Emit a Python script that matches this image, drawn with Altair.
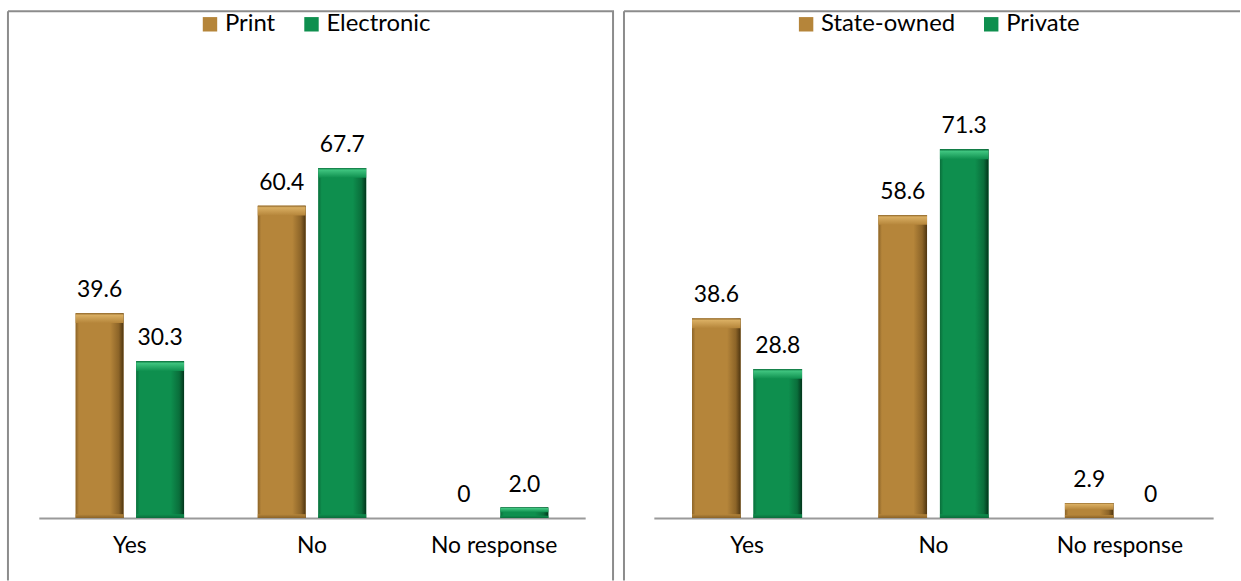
import altair as alt
import pandas as pd

# Categories and series values for the two panels
categories = ["Yes", "No", "No response"]

left_series = ["Print", "Electronic"]
print_values = [39.6, 60.4, 0]
electronic_values = [30.3, 67.7, 2.0]

right_series = ["State-owned", "Private"]
state_owned_values = [38.6, 58.6, 2.9]
private_values = [28.8, 71.3, 0]

BROWN = {"main": "#B5853A", "light": "#D9AE62", "dark": "#4E3510", "edge": "#8C6428"}
GREEN = {"main": "#0E8F4E", "light": "#3FC47F", "dark": "#02351B", "edge": "#0A6E3B"}

FONT = "Lato"
FONT_SIZE = 23
LEGEND_FONT_SIZE = 24
Y_MAX = 98.0
BASE = 509          # pixel row of the zero line inside each view
VIEW_H = 572
BORDER = "#8c8c8c"


def body_gradient(c):
    return alt.Gradient(
        gradient="linear", x1=0, y1=0, x2=1, y2=0,
        stops=[
            alt.GradientStop(offset=0.0, color=c["edge"]),
            alt.GradientStop(offset=0.07, color=c["main"]),
            alt.GradientStop(offset=0.72, color=c["main"]),
            alt.GradientStop(offset=0.9, color=c["edge"]),
            alt.GradientStop(offset=1.0, color=c["dark"]),
        ],
    )


def cap_gradient(c):
    return alt.Gradient(
        gradient="linear", x1=0, y1=0, x2=0, y2=1,
        stops=[
            alt.GradientStop(offset=0.0, color=c["edge"]),
            alt.GradientStop(offset=0.2, color=c["light"]),
            alt.GradientStop(offset=1.0, color=c["main"]),
        ],
    )


def foot_gradient(c):
    return alt.Gradient(
        gradient="linear", x1=0, y1=0, x2=0, y2=1,
        stops=[
            alt.GradientStop(offset=0.0, color=c["main"]),
            alt.GradientStop(offset=1.0, color=c["edge"]),
        ],
    )


def frame(width, right_edge):
    """Panel outline: left and top edges, plus the right edge when asked."""
    one = alt.Chart(pd.DataFrame({"k": [0]}))
    parts = [
        one.mark_rule(color=BORDER, strokeWidth=2).encode(
            x=alt.value(0), y=alt.value(0), y2=alt.value(VIEW_H)),
        one.mark_rule(color=BORDER, strokeWidth=2).encode(
            x=alt.value(0), x2=alt.value(width + 1), y=alt.value(0)),
    ]
    if right_edge:
        parts.append(one.mark_rule(color=BORDER, strokeWidth=2).encode(
            x=alt.value(width), y=alt.value(0), y2=alt.value(VIEW_H)))
    return parts


def panel(series, first_vals, second_vals, width, x_range, pad_inner, legend_x, right_edge):
    rows = []
    for cat, a, b in zip(categories, first_vals, second_vals):
        rows.append({"category": cat, "series": series[0], "value": a})
        rows.append({"category": cat, "series": series[1], "value": b})
    df = pd.DataFrame(rows)

    base = alt.Chart(df).transform_calculate(
        label="datum.value == 0 ? '0' : format(datum.value, '.1f')",
        cap="max(datum.value - min(1.9, datum.value * 0.45), 0)",
        foot="min(0.7, datum.value * 0.2)",
        zero="0",
    )

    x = alt.X(
        "category:N", sort=categories, title=None,
        scale=alt.Scale(range=x_range, paddingInner=pad_inner, paddingOuter=pad_inner / 2),
        axis=alt.Axis(
            orient="bottom", offset=BASE - VIEW_H, labelAngle=0, ticks=False,
            domainColor="#9a9a9a", domainWidth=2, labelPadding=17,
            labelFont=FONT, labelFontSize=FONT_SIZE, labelColor="#000000", grid=False,
        ),
    )
    xo = alt.XOffset("series:N", sort=series,
                     scale=alt.Scale(domain=series, paddingInner=0.21, paddingOuter=0))
    y_scale = alt.Scale(domain=[0, Y_MAX], range=[BASE, 0], nice=False, zero=True)
    y = alt.Y("value:Q", title=None, axis=None, scale=y_scale)

    solid = base.mark_bar().encode(
        x=x, xOffset=xo, y=y,
        color=alt.Color(
            "series:N", sort=series,
            scale=alt.Scale(domain=series, range=[BROWN["main"], GREEN["main"]]),
            legend=alt.Legend(
                title=None, orient="none", legendX=legend_x, legendY=1,
                direction="horizontal", symbolType="square", symbolSize=210,
                symbolStrokeWidth=0, labelFont=FONT, labelFontSize=LEGEND_FONT_SIZE,
                labelColor="#000000", columnPadding=24, labelOffset=3,
            ),
        ),
    )

    layers = frame(width, right_edge) + [solid]
    for name, pal in zip(series, [BROWN, GREEN]):
        part = base.transform_filter(alt.datum.series == name)
        layers.append(part.mark_bar(fill=body_gradient(pal)).encode(x=x, xOffset=xo, y=y))
        layers.append(
            part.mark_bar(fill=cap_gradient(pal)).encode(
                x=x, xOffset=xo, y=y, y2="cap:Q"
            )
        )
        layers.append(
            part.mark_bar(fill=foot_gradient(pal)).encode(
                x=x, xOffset=xo,
                y=alt.Y("foot:Q", title=None, axis=None, scale=y_scale),
                y2="zero:Q",
            )
        )

    labels = base.mark_text(
        baseline="bottom", dy=-11, font=FONT, fontSize=FONT_SIZE, color="#000000"
    ).encode(x=x, xOffset=xo, y=y, text="label:N")
    layers.append(labels)

    return alt.layer(*layers).properties(width=width, height=VIEW_H).resolve_scale(
        color="independent"
    )


left = panel(left_series, print_values, electronic_values, 608, [31, 580], 0.405, 191, True)
right = panel(right_series, state_owned_values, private_values, 618, [30, 592], 0.41, 171, False)

chart = (
    alt.hconcat(left, right, spacing=8)
    .resolve_scale(color="independent", x="independent", y="independent",
                   xOffset="independent")
    .resolve_legend(color="independent")
    .properties(padding={"left": 7, "top": 9, "right": 0, "bottom": 0},
                background="#ffffff")
    .configure_view(strokeWidth=0)
)

chart.save("out.html", embed_options={"renderer": "svg", "actions": False})
